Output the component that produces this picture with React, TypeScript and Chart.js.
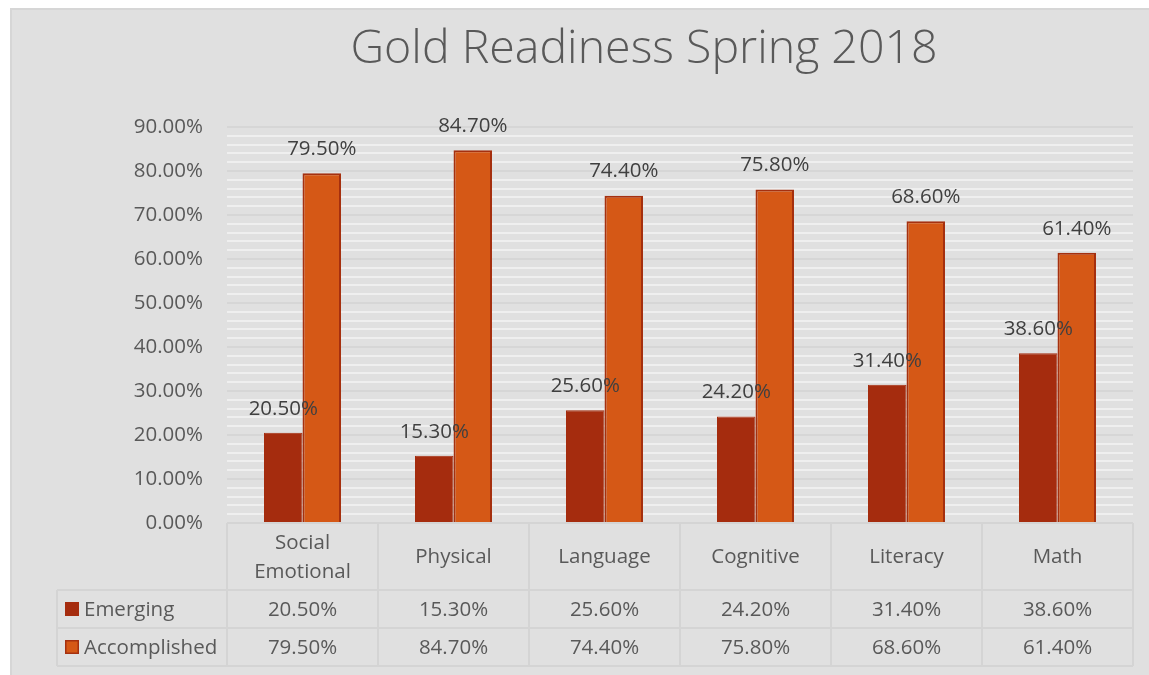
import React, { useEffect, useRef } from "react";
import { Chart, registerables } from "chart.js";

Chart.register(...registerables);

const title = "Gold Readiness Spring 2018";
const categories = ["Social Emotional", "Physical", "Language", "Cognitive", "Literacy", "Math"];
const categoryLines = [["Social", "Emotional"], ["Physical"], ["Language"], ["Cognitive"], ["Literacy"], ["Math"]];
const emerging = [20.5, 15.3, 25.6, 24.2, 31.4, 38.6];
const accomplished = [79.5, 84.7, 74.4, 75.8, 68.6, 61.4];
const seriesNames = ["Emerging", "Accomplished"];
const yMax = 90;
const yMajorStep = 10;
const yMinorStep = 2;

const FONT = '"Open Sans", "Noto Sans", sans-serif';
const TEXT = "#595959";
const EMERGING_COLOR = "#A52C0E";
const ACCOMPLISHED_COLOR = "#D55816";
const ACC_BORDER = "#A5300F";
const TABLE_LINE = "#d4d4d4";

const fmt = (v: number) => v.toFixed(2) + "%";

const bgPlugin = {
  id: "bg",
  beforeDraw(chart: any) {
    const ctx = chart.ctx;
    ctx.save();
    ctx.fillStyle = "#ffffff";
    ctx.fillRect(0, 0, chart.width, chart.height);
    ctx.fillStyle = "#e0e0e0";
    ctx.fillRect(10, 8, chart.width - 10, chart.height - 8);
    ctx.strokeStyle = "#d6d6d6";
    ctx.lineWidth = 2;
    ctx.beginPath();
    ctx.moveTo(11, chart.height);
    ctx.lineTo(11, 9);
    ctx.lineTo(chart.width, 9);
    ctx.stroke();
    // title
    ctx.fillStyle = TEXT;
    ctx.font = `300 46.5px ${FONT}`;
    ctx.textAlign = "center";
    ctx.textBaseline = "alphabetic";
    ctx.fillText(title, 644, 63);
    ctx.restore();
  },
};

const labelPlugin = {
  id: "valueLabels",
  afterDatasetsDraw(chart: any) {
    const ctx = chart.ctx;
    ctx.save();
    ctx.fillStyle = "#404040";
    ctx.font = `20.5px ${FONT}`;
    ctx.textAlign = "center";
    ctx.textBaseline = "middle";
    chart.data.datasets.forEach((ds: any, di: number) => {
      const meta = chart.getDatasetMeta(di);
      meta.data.forEach((el: any, i: number) => {
        ctx.fillText(fmt(ds.data[i]), el.x, el.y - 24);
      });
    });
    ctx.restore();
  },
};

const tablePlugin = {
  id: "dataTable",
  afterDraw(chart: any) {
    const ctx = chart.ctx;
    const area = chart.chartArea;
    const n = categories.length;
    const cw = (area.right - area.left) / n;
    const top = area.bottom;
    const r1 = top + 67;
    const r2 = r1 + 38;
    const r3 = r2 + 38;
    const legendLeft = 57;
    ctx.save();
    ctx.strokeStyle = TABLE_LINE;
    ctx.lineWidth = 2;
    ctx.beginPath();
    ctx.moveTo(area.left, top);
    ctx.lineTo(area.right, top);
    [r1, r2, r3].forEach((y) => {
      ctx.moveTo(legendLeft, y);
      ctx.lineTo(area.right, y);
    });
    for (let i = 0; i <= n; i++) {
      const x = area.left + cw * i;
      ctx.moveTo(x, top);
      ctx.lineTo(x, r3);
    }
    ctx.moveTo(legendLeft, r1);
    ctx.lineTo(legendLeft, r3);
    ctx.stroke();

    ctx.fillStyle = TEXT;
    ctx.font = `20.5px ${FONT}`;
    ctx.textAlign = "center";
    ctx.textBaseline = "middle";
    const xs = chart.scales.x;
    categoryLines.forEach((lines, i) => {
      const cx = xs.getPixelForValue(i);
      const mid = (top + r1) / 2;
      if (lines.length === 1) {
        ctx.fillText(lines[0], cx, mid + 1);
      } else {
        ctx.fillText(lines[0], cx, mid - 13);
        ctx.fillText(lines[1], cx, mid + 16);
      }
      ctx.fillText(fmt(emerging[i]), cx, (r1 + r2) / 2 + 1);
      ctx.fillText(fmt(accomplished[i]), cx, (r2 + r3) / 2 + 1);
    });
    // legend keys
    const rows = [
      { y: (r1 + r2) / 2, name: seriesNames[0], fill: EMERGING_COLOR, border: EMERGING_COLOR },
      { y: (r2 + r3) / 2, name: seriesNames[1], fill: ACCOMPLISHED_COLOR, border: ACC_BORDER },
    ];
    rows.forEach((r) => {
      ctx.fillStyle = r.fill;
      ctx.fillRect(65, r.y - 7, 14, 14);
      ctx.strokeStyle = r.border;
      ctx.lineWidth = 1.5;
      ctx.strokeRect(65.75, r.y - 6.25, 12.5, 12.5);
      ctx.fillStyle = TEXT;
      ctx.textAlign = "left";
      ctx.fillText(r.name, 84, r.y + 1);
    });
    ctx.restore();
  },
};

export default function App() {
  const ref = useRef<HTMLCanvasElement>(null);
  useEffect(() => {
    if (!ref.current) return;
    const chart = new Chart(ref.current, {
      type: "bar",
      data: {
        labels: categories,
        datasets: [
          {
            label: seriesNames[0],
            data: emerging,
            backgroundColor: EMERGING_COLOR,
            borderColor: EMERGING_COLOR,
            borderWidth: 1,
            barPercentage: 1,
            categoryPercentage: 0.51,
          },
          {
            label: seriesNames[1],
            data: accomplished,
            backgroundColor: ACCOMPLISHED_COLOR,
            borderColor: ACC_BORDER,
            borderWidth: 2,
            barPercentage: 1,
            categoryPercentage: 0.51,
          },
        ],
      },
      options: {
        responsive: false,
        animation: false,
        devicePixelRatio: 1,
        layout: { padding: { left: 0, top: 127, right: 16, bottom: 152 } },
        plugins: {
          legend: { display: false },
          title: { display: false },
          tooltip: { enabled: false },
        },
        scales: {
          x: { display: false, grid: { display: false } },
          y: {
            min: 0,
            max: yMax,
            border: { display: false },
            afterFit(scale: any) {
              scale.width = 227;
            },
            grid: {
              drawTicks: false,
              color: (c: any) => (c.tick && c.tick.value % yMajorStep === 0 ? "#d6d6d6" : "#efefef"),
              lineWidth: 2,
            },
            ticks: {
              stepSize: yMinorStep,
              autoSkip: false,
              padding: 24,
              color: TEXT,
              font: { family: FONT, size: 20.5 },
              callback: (v: any) => (Number(v) % yMajorStep === 0 ? fmt(Number(v)) : ""),
            },
          },
        },
      },
      plugins: [bgPlugin, labelPlugin, tablePlugin],
    });
    return () => chart.destroy();
  }, []);
  return (
    <div style={{ position: "fixed", left: 0, top: 0, width: 1149, height: 675 }}>
      <canvas ref={ref} width={1149} height={675} style={{ display: "block" }} />
    </div>
  );
}
